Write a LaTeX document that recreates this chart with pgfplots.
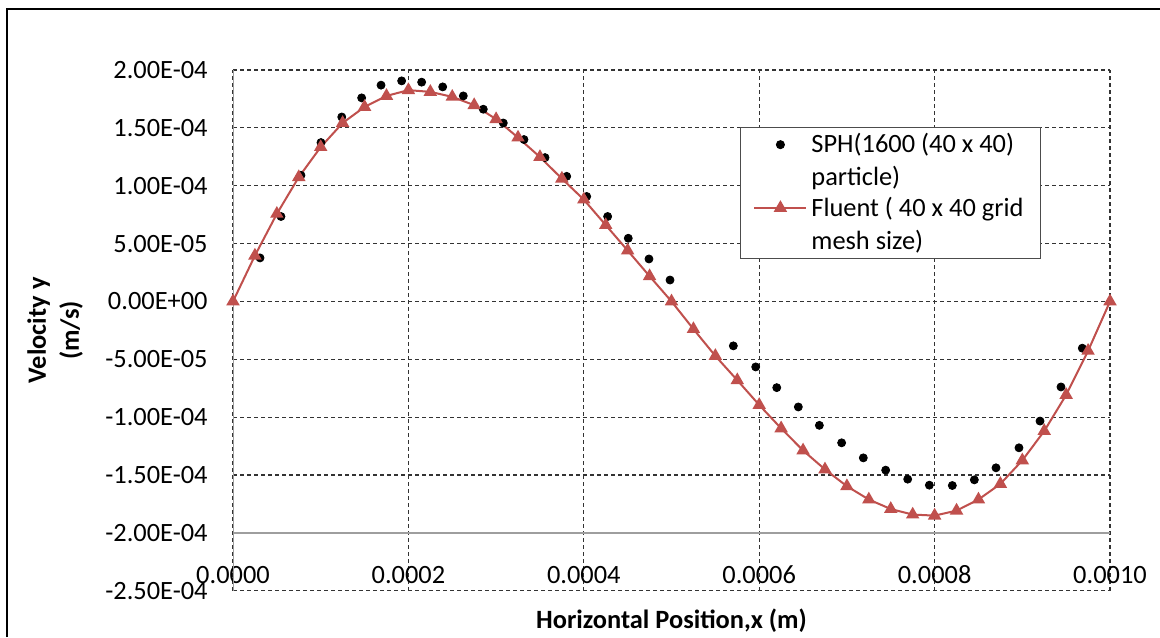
\documentclass[border=0pt]{standalone}
\usepackage{pgfplots}
\pgfplotsset{compat=1.18}
\usepackage{fontspec}
\setmainfont{Carlito}
\definecolor{fluentred}{RGB}{192,80,77}
\pgfplotsset{widelegend/.style={legend image code/.code={\draw[yshift=8.25pt,mark repeat=2,mark phase=2,##1] plot coordinates {(0pt,0pt) (13pt,0pt) (26pt,0pt)};}}}
\begin{document}
\begin{tikzpicture}
\useasboundingbox (0,0) rectangle (580pt,-318.5pt);
\fill[white] (0,0) rectangle (580pt,-318.5pt);
\draw[black,line width=1pt] (3.5pt,-318.5pt) -- (3.5pt,-4.5pt) -- (580pt,-4.5pt);
\begin{axis}[at={(116.5pt,-35pt)},anchor=north west,
  scale only axis,width=438.5pt,height=260.35pt,
  font=\fontsize{13.2}{16.5}\selectfont,
  xmin=0,xmax=0.001,ymin=-2.5e-4,ymax=2e-4,
  scaled ticks=false,
  xtick={0,0.0002,0.0004,0.0006,0.0008,0.001},
  xticklabels={0.0000,0.0002,0.0004,0.0006,0.0008,0.0010},
  ytick={-2.5e-4,-2e-4,-1.5e-4,-1e-4,-5e-5,0,5e-5,1e-4,1.5e-4,2e-4},
  yticklabels={-2.50E-04,-2.00E-04,-1.50E-04,-1.00E-04,-5.00E-05,0.00E+00,5.00E-05,1.00E-04,1.50E-04,2.00E-04},
  major tick length=0pt,
  axis line style={draw=none},
  grid=major,
  major grid style={black!80,line width=0.55pt,dash pattern=on 2pt off 1.5pt},
  xticklabel style={anchor=base,inner sep=0pt,yshift=3.6pt},
  yticklabel style={anchor=east,inner sep=0pt,xshift=-12.5pt},
  xlabel={Horizontal Position,x (m)},
  xlabel style={at={(rel axis cs:0.5,0)},anchor=base,yshift=-19pt,font=\fontsize{13.2}{16.5}\selectfont\bfseries},
  ylabel={Velocity y\\(m/s)},
  ylabel style={at={([xshift=-89pt]rel axis cs:0,0.5)},anchor=center,rotate=0,align=center,font=\fontsize{13.2}{16.5}\selectfont\bfseries},
  legend cell align=left,
  legend style={at={(rel axis cs:0.578,0.8905)},anchor=north west,draw=black!70,line width=0.5pt,fill=white,
    inner xsep=6.5pt,inner ysep=1pt,row sep=0pt,font=\fontsize{13.2}{16.5}\selectfont,cells={align=left}},
]
\draw[black!38,line width=0.7pt] (axis cs:0,-2.5e-4) -- (axis cs:0,2e-4);
\draw[black!38,line width=0.7pt] (axis cs:0,-2e-4) -- (axis cs:0.001,-2e-4);
\addplot[only marks,mark=*,mark size=2pt,black,widelegend]
  table {
x y
0.0000308 3.76e-5
0.0000547 7.34e-5
0.0000775 1.09e-4
0.0001003 1.373e-4
0.0001240 1.594e-4
0.0001467 1.759e-4
0.0001688 1.869e-4
0.0001923 1.906e-4
0.0002151 1.895e-4
0.0002391 1.854e-4
0.0002626 1.776e-4
0.0002854 1.661e-4
0.0003082 1.542e-4
0.0003318 1.399e-4
0.0003558 1.243e-4
0.0003805 1.081e-4
0.0004033 9.07e-5
0.0004272 7.34e-5
0.0004507 5.46e-5
0.0004743 3.67e-5
0.0004983 1.85e-5
0.0005705 -3.84e-5
0.0005960 -5.66e-5
0.0006200 -7.45e-5
0.0006446 -9.12e-5
0.0006686 -1.071e-4
0.0006940 -1.222e-4
0.0007187 -1.352e-4
0.0007442 -1.458e-4
0.0007693 -1.536e-4
0.0007940 -1.588e-4
0.0008202 -1.591e-4
0.0008453 -1.542e-4
0.0008700 -1.438e-4
0.0008962 -1.265e-4
0.0009202 -1.034e-4
0.0009441 -7.39e-5
0.0009684 -4.04e-5
};
\addlegendentry{SPH(1600 (40 x 40)\\particle)}
\addplot[fluentred,line width=1pt,mark=triangle*,mark size=2.9pt,widelegend]
  table {
x y
0 0
0.000025 3.96e-5
0.000050 7.57e-5
0.000075 1.074e-4
0.000100 1.334e-4
0.000125 1.542e-4
0.000150 1.681e-4
0.000175 1.776e-4
0.000200 1.826e-4
0.000225 1.811e-4
0.000250 1.768e-4
0.000275 1.696e-4
0.000300 1.575e-4
0.000325 1.416e-4
0.000350 1.248e-4
0.000375 1.061e-4
0.000400 8.80e-5
0.000425 6.60e-5
0.000450 4.40e-5
0.000475 2.18e-5
0.000500 0
0.000525 -2.39e-5
0.000550 -4.71e-5
0.000575 -6.81e-5
0.000600 -8.95e-5
0.000625 -1.097e-4
0.000650 -1.288e-4
0.000675 -1.452e-4
0.000700 -1.597e-4
0.000725 -1.712e-4
0.000750 -1.794e-4
0.000775 -1.842e-4
0.000800 -1.851e-4
0.000825 -1.808e-4
0.000850 -1.712e-4
0.000875 -1.577e-4
0.000900 -1.374e-4
0.000925 -1.120e-4
0.000950 -8.08e-5
0.000975 -4.27e-5
0.001 0
};
\addlegendentry{Fluent ( 40 x 40 grid\\mesh size)}
\end{axis}
\end{tikzpicture}
\end{document}
